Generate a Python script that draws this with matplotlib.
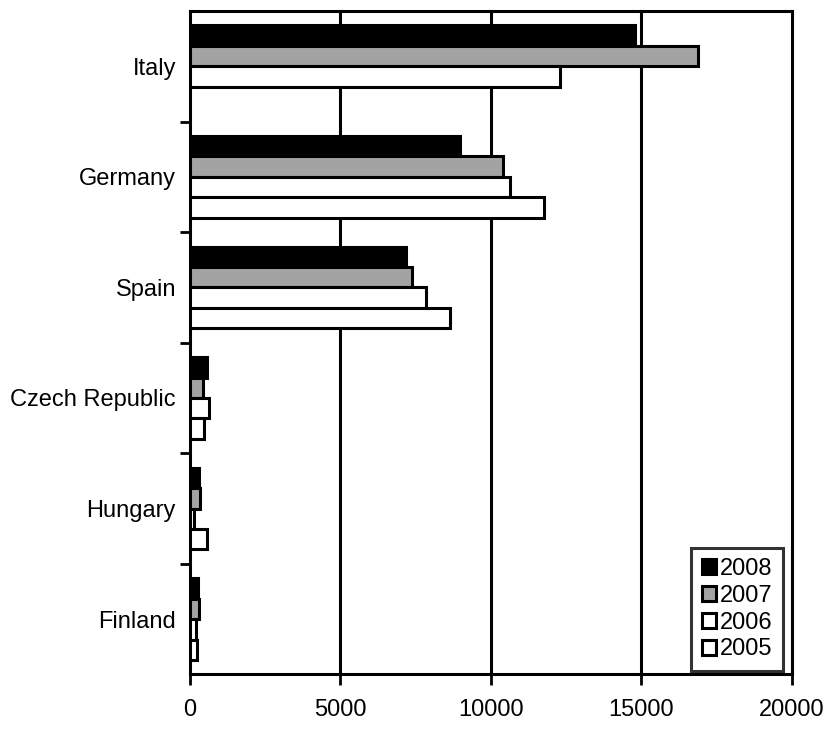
import numpy as np
import matplotlib.pyplot as plt

plt.rcParams['font.family'] = ['Liberation Sans', 'DejaVu Sans']

countries = ['Italy', 'Germany', 'Spain', 'Czech Republic', 'Hungary', 'Finland']
years = ['2008', '2007', '2006', '2005']
v2008 = [14800, 8980, 7170, 560, 300, 260]
v2007 = [16900, 10410, 7390, 450, 330, 290]
v2006 = [12300, 10630, 7860, 650, 150, 200]
v2005 = [np.nan, 11770, 8640, 480, 570, 250]
x_ticks = [0, 5000, 10000, 15000, 20000]

series = [v2008, v2007, v2006, v2005]
fills = ['black', '#a3a3a3', 'white', 'white']

fig = plt.figure(figsize=(8.29, 7.37), dpi=100)
ax = fig.add_axes([0.229, 0.085, 0.726, 0.9])

y = np.arange(len(countries))
h = 0.185
for k, vals in enumerate(series):
    ax.barh(y + (k - 1.5) * h, vals, height=h, color=fills[k], edgecolor='black',
            linewidth=2.2, label=years[k], zorder=3)

for xv in x_ticks[1:-1]:
    ax.axvline(xv, color='black', lw=2.2, zorder=1)

ax.set_xlim(0, 20000)
ax.set_ylim(len(countries) - 0.5, -0.5)
ax.set_xticks(x_ticks)
ax.set_xticklabels([str(t) for t in x_ticks], fontsize=17)
ax.set_yticks(y)
ax.set_yticklabels(countries, fontsize=17)
ax.set_yticks(np.arange(0.5, len(countries) - 0.5), minor=True)
ax.tick_params(axis='y', which='major', length=0, pad=10)
ax.tick_params(axis='y', which='minor', length=7, width=2, direction='out')
ax.tick_params(axis='x', length=8, width=2, direction='out', pad=10)
for s in ax.spines.values():
    s.set_linewidth(2.2)
    s.set_color('black')

leg = ax.legend(loc='lower right', fontsize=17, frameon=True, fancybox=False,
                handlelength=0.6, handleheight=0.6, handletextpad=0.15,
                labelspacing=0.2, borderpad=0.45, borderaxespad=0,
                bbox_to_anchor=(0.985, 0.005))
leg.get_frame().set_edgecolor('black')
leg.get_frame().set_linewidth(2.2)

fig.savefig('out.png', dpi=100)
